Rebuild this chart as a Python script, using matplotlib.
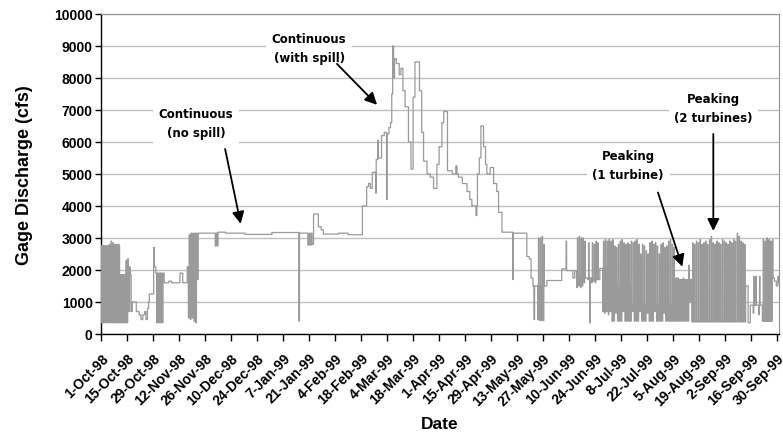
import numpy as np
import pandas as pd
import matplotlib
matplotlib.use("Agg")
import matplotlib.pyplot as plt
import matplotlib.dates as mdates
from matplotlib.transforms import ScaledTranslation

# ---------------- data ----------------
start_date = "1998-10-01"
end_date = "1999-10-01"

# steady flow: step breakpoints (day offset from start, cfs)
base_day = [0, 10, 16.2, 16.8, 19.0, 20.5, 21.5, 22.5, 23.5, 24.2, 25.0, 25.6, 26.0, 28.3, 28.7,
            29.5, 34.0, 36.5, 38.0, 42.5, 44.0, 46.4, 47.0, 52.3, 61.5, 62.0, 62.6, 63.0, 67.0,
            77.5, 92.0, 106.5, 106.8, 111.3, 112.0, 112.5, 113.2, 113.6, 114.4, 117.0, 118.5,
            119.7, 128.0, 133.0, 140.7, 143.0, 144.0, 145.0, 146.0, 147.8, 148.1, 149.0, 149.3,
            151.0, 152.5, 153.7, 154.0, 155.0, 155.8, 156.5, 157.0, 157.5, 158.0, 159.0, 160.5,
            161.4, 162.5, 163.7, 165.5, 166.8, 168.0, 169.0, 171.4, 172.6, 173.6, 175.5, 177.2,
            179.0, 180.8, 182.0, 183.5, 184.5, 186.5, 189.0, 191.0, 191.6, 192.3, 194.5, 197.0,
            198.5, 199.6, 201.8, 202.3, 202.6, 203.6, 204.5, 205.9, 207.0, 207.7, 209.5, 211.3,
            213.0, 214.0, 215.8, 221.6, 221.9, 229.2, 230.5, 231.5, 232.5, 240.0, 248.0, 250.3,
            250.6, 254.0, 255.0, 256.0, 260.6, 264.2, 268.5, 272.0, 285.0, 309.0, 318.0, 347.0,
            348.3, 349.5, 356.0, 361.3, 362.5, 363.5, 364.3, 364.7]
base_cfs = [2750, 1850, 700, 1000, 700, 600, 450, 600, 700, 450, 800, 1000, 1250, 2700, 2100,
            1900, 1600, 1650, 1600, 1900, 1600, 2100, 1700, 3150, 2750, 3150, 2750, 3180, 3150,
            3110, 3170, 400, 3150, 2780, 3150, 2780, 3150, 2800, 3750, 3350, 3250,
            3120, 3150, 3100, 4000, 4600, 4700, 4550, 5050, 4400, 5450, 6050, 5500,
            6200, 6300, 4200, 6250, 6450, 6600, 7500, 9000, 8000, 8600, 8450, 8100,
            8300, 7600, 7100, 6000, 5150, 7400, 8500, 7600, 6300, 5400, 5000, 4900,
            4550, 5300, 5850, 6600, 6950, 5100, 5000, 5250, 5000, 4900, 4700, 4450,
            4200, 4000, 3700, 4000, 5000, 5500, 6500, 5850, 5300, 5000, 5200, 4700,
            4450, 3800, 3180, 1700, 3150, 2420, 2350, 1750, 1500, 1670, 2030, 2900,
            1980, 1750, 1980, 1800, 1750, 1700, 2050, 1500, 900, 1700, 380, 1500,
            350, 900, 400, 1750, 1650, 1500, 1800, 1600]

# cycling / peaking days: day index, daily high and daily low (cfs)
cyc_day = ([0, 1, 2, 3, 4, 5, 6, 7, 8, 9, 10, 11, 12, 13, 14, 15, 30, 31, 32, 33,
            47, 48, 49, 50, 51, 233, 235, 236, 237, 238, 256, 257, 258, 259, 260, 262, 263,
            264, 265, 266, 267, 270, 271, 272, 273]
           + list(range(274, 309)) + list(range(309, 318)) + list(range(318, 347))
           + [351, 352, 354] + list(range(356, 362)))
cyc_high = ([2700, 2700, 2720, 2750, 2800, 2900, 2850, 2800, 2800, 2800, 1850, 1850, 1850,
             2300, 2350, 2100, 1900, 1900, 1900, 1900,
             3100, 3150, 3150, 3150, 3150, 1500, 3000, 3000, 3050, 2800,
             3000, 3050, 3000, 3000, 2900, 2850, 1750, 2850, 2800, 2900, 2850,
             2900, 2950, 2900, 2950]
            + [2900, 2950, 2750, 2700, 2800, 2900, 2950, 2850, 2800, 2850, 2800, 2900, 2850,
               2900, 2950, 2800, 2500, 2800, 2750, 2600, 2500, 2850, 2900, 2800, 2850, 2750,
               2500, 2800, 2850, 2700, 2750, 2900, 2950, 2800, 2700]
            + [1750, 1750, 1700, 1700, 1750, 1700, 1700, 2150, 1700]
            + [2850, 2800, 2900, 2850, 2950, 2800, 2850, 2900, 2800, 2950, 3050, 2850, 2800,
               2900, 2850, 2800, 2950, 2900, 2850, 2800, 2900, 2850, 2950, 2900, 3150, 3050,
               2900, 2850, 2800]
            + [1800, 1800, 1800]
            + [2950, 2900, 3000, 2950, 2900, 2950])
cyc_low = ([350] * 13 + [350, 350, 700] + [350] * 4
           + [500, 450, 500, 400, 350, 450, 450, 420, 420, 420,
              1450, 1500, 1450, 1500, 1600, 1700, 350, 1600, 1650, 1600, 1700,
              700, 650, 700, 600]
           + [700, 400, 400, 650, 400, 400, 400, 700, 400, 400, 400, 400, 700, 400, 400,
              400, 700, 400, 400, 400, 650, 400, 400, 400, 700, 400, 400, 400, 400, 650,
              400, 400, 400, 400, 400]
           + [400] * 8 + [1000]
           + [380] * 29
           + [650, 900, 600]
           + [400] * 6)

tick_labels = ["1-Oct-98", "15-Oct-98", "29-Oct-98", "12-Nov-98", "26-Nov-98", "10-Dec-98",
               "24-Dec-98", "7-Jan-99", "21-Jan-99", "4-Feb-99", "18-Feb-99", "4-Mar-99",
               "18-Mar-99", "1-Apr-99", "15-Apr-99", "29-Apr-99", "13-May-99", "27-May-99",
               "10-Jun-99", "24-Jun-99", "8-Jul-99", "22-Jul-99", "5-Aug-99", "19-Aug-99",
               "2-Sep-99", "16-Sep-99", "30-Sep-99"]
y_ticks = [0, 1000, 2000, 3000, 4000, 5000, 6000, 7000, 8000, 9000, 10000]

# annotations: text, text position (day, cfs), arrow tail and tip (day, cfs)
ann_text = ["Continuous\n(no spill)", "Continuous\n(with spill)",
            "Peaking\n(1 turbine)", "Peaking\n(2 turbines)"]
ann_text_xy = [(51.2, 6600), (112.0, 8940), (283.8, 5270), (329.6, 7060)]
ann_tail_xy = [(66.8, 5780), (127.0, 8440), (299.8, 4420), (329.6, 6250)]
ann_tip_xy = [(75.2, 3440), (148.6, 7160), (312.9, 2100), (329.6, 3220)]

# ---------------- build hourly series ----------------
hours_per_day = 24
n_days = (pd.Timestamp(end_date) - pd.Timestamp(start_date)).days
n = n_days * hours_per_day
t = np.arange(n) / hours_per_day
idx = np.searchsorted(np.array(base_day), t, side="right") - 1
flow = np.array(base_cfs, dtype=float)[idx]
hour = np.arange(n) % hours_per_day
day_i = np.arange(n) // hours_per_day
for d, hi, lo in zip(cyc_day, cyc_high, cyc_low):
    sel = day_i == d
    flow[sel & (hour >= 1) & (hour < 9)] = lo
    flow[sel & (hour >= 11) & (hour < 16)] = hi

x0 = mdates.date2num(pd.Timestamp(start_date))
x = x0 + t

# ---------------- plot ----------------
plt.rcParams["font.family"] = ["Liberation Sans", "DejaVu Sans"]
fig = plt.figure(figsize=(7.83, 4.39), dpi=100)
ax = fig.add_axes([0.129, 0.237, 0.866, 0.729])

ax.plot(x, flow, drawstyle="steps-post", color="#9a9a9a", lw=0.9, zorder=3)

ax.set_xlim(x0, mdates.date2num(pd.Timestamp(end_date)))
ax.set_ylim(0, 10000)
ax.set_yticks(y_ticks)
ax.set_yticklabels([str(v) for v in y_ticks], fontsize=10, fontweight="bold")
tick_pos = [mdates.date2num(pd.to_datetime(s, format="%d-%b-%y")) for s in tick_labels]
ax.set_xticks(tick_pos)
ax.set_xticklabels(tick_labels, rotation=45, ha="right", va="top", rotation_mode="anchor",
                   fontsize=10, fontweight="bold")
shift = ScaledTranslation(-4 / 100, 0, fig.dpi_scale_trans)
for lab in ax.get_xticklabels():
    lab.set_transform(lab.get_transform() + shift)
ax.tick_params(axis="x", direction="out", length=5, width=1, pad=7)
ax.tick_params(axis="y", direction="out", length=4, width=1, pad=2)

ax.grid(axis="y", color="#c0c0c0", lw=1.0, zorder=0)
ax.set_axisbelow(True)
for s in ["top", "right"]:
    ax.spines[s].set_color("#909090")
for s in ["left", "bottom"]:
    ax.spines[s].set_color("black")
    ax.spines[s].set_linewidth(1.0)

ax.set_ylabel("Gage Discharge (cfs)", fontsize=13, fontweight="bold", labelpad=15)
ax.set_xlabel("Date", fontsize=12.5, fontweight="bold", labelpad=6)

for txt, (tx, ty), (sx, sy), (hx, hy) in zip(ann_text, ann_text_xy, ann_tail_xy, ann_tip_xy):
    ax.text(x0 + tx, ty, txt, ha="center", va="center", fontsize=8.5, fontweight="bold",
            family=["DejaVu Sans"], linespacing=1.6, zorder=5,
            bbox=dict(facecolor="white", edgecolor="none", pad=4))
    ax.annotate("", xy=(x0 + hx, hy), xytext=(x0 + sx, sy),
                arrowprops=dict(arrowstyle="-|>", color="black", lw=1.3,
                                mutation_scale=18, shrinkA=0, shrinkB=0), zorder=6)

fig.savefig("out.png", dpi=100)
